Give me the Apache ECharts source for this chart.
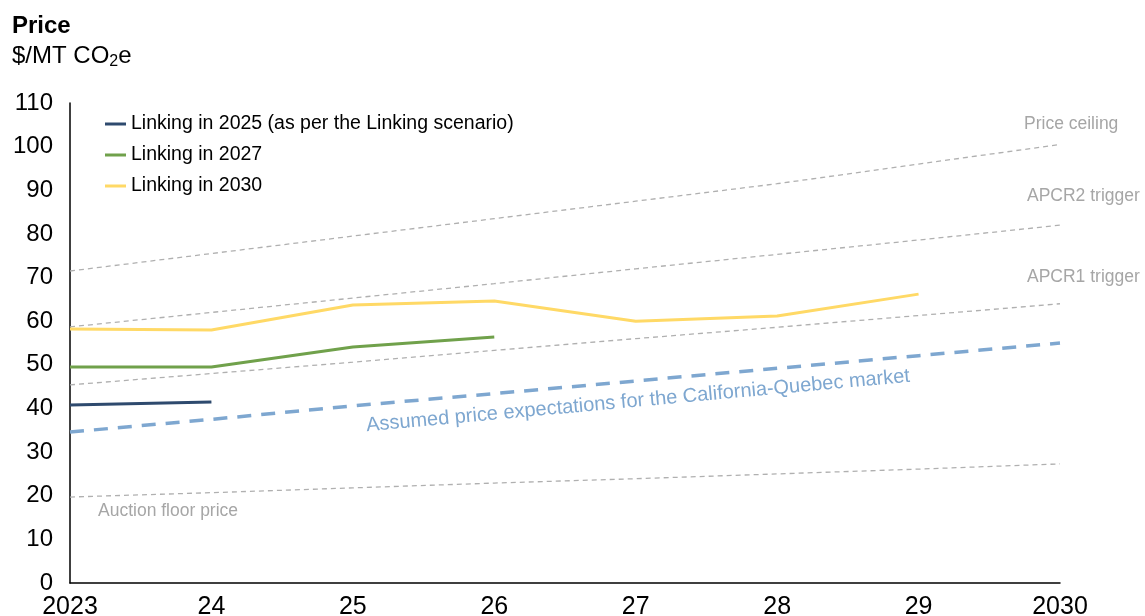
<!DOCTYPE html>
<html><head><meta charset="utf-8">
<script src="https://cdn.jsdelivr.net/npm/echarts@6/dist/echarts.min.js"></script>
<style>html,body{margin:0;padding:0;background:#fff}#c{width:1145px;height:616px}</style>
</head><body><div id="c"></div>
<script>
const years = ['2023','24','25','26','27','28','29','2030'];
const linking2025 = [40.8, 41.5, null, null, null, null, null, null];
const linking2027 = [49.5, 49.5, 54.1, 56.4, null, null, null, null];
const linking2030 = [58.2, 58.0, 63.7, 64.6, 60.0, 61.2, 66.2, null];
const assumedPrice = [34.6, 37.5, 40.6, 43.4, 46.3, 49.2, 52.1, 55.0];
const priceCeiling = [71.5, 75.5, 79.5, 83.5, 87.5, 91.5, 96.0, 100.5];
const apcr2 = [58.7, 62.0, 65.3, 68.6, 72.0, 75.3, 78.6, 82.0];
const apcr1 = [45.4, 48.0, 50.6, 53.3, 56.0, 58.6, 61.3, 64.0];
const auctionFloor = [19.7, 20.7, 21.8, 22.9, 23.9, 25.0, 26.1, 27.3];
const yTicks = {min: 0, max: 110, interval: 10};

const FONT = 'Liberation Sans, Arial, sans-serif';
const grey = '#a6a6a6';
function refLine(name, data){
  return {name, type:'line', data, symbol:'none', silent:true,
    lineStyle:{color:'#b0b0b0', width:1.3, type:[5,4]}, z:1};
}
const chart = echarts.init(document.getElementById('c'));
chart.setOption({
  animation:false,
  textStyle:{fontFamily:FONT},
  grid:{left:70, right:85, top:103, bottom:33, outerBoundsMode:'none', containLabel:false},
  xAxis:{type:'category', data:years, boundaryGap:false,
    axisLine:{lineStyle:{color:'#000', width:1.5}}, axisTick:{show:false},
    axisLabel:{color:'#000', fontSize:25, margin:12, fontFamily:FONT}},
  yAxis:{type:'value', min:yTicks.min, max:yTicks.max, interval:yTicks.interval,
    axisLine:{show:true, lineStyle:{color:'#000', width:1.5}}, axisTick:{show:false},
    splitLine:{show:false},
    axisLabel:{color:'#000', fontSize:24, margin:17, fontFamily:FONT}},
  legend:{left:100, top:109, orient:'vertical', itemGap:11, itemWidth:21, itemHeight:3,
    icon:'rect', textStyle:{fontSize:19.5, color:'#000', fontFamily:FONT},
    data:['Linking in 2025 (as per the Linking scenario)','Linking in 2027','Linking in 2030']},
  series:[
    refLine('Price ceiling', priceCeiling),
    refLine('APCR2 trigger', apcr2),
    refLine('APCR1 trigger', apcr1),
    refLine('Auction floor price', auctionFloor),
    {name:'Assumed price', type:'line', data:assumedPrice, symbol:'none',
      lineStyle:{color:'#7ea7d0', width:3.5, type:[14,10]}, z:2},
    {name:'Linking in 2025 (as per the Linking scenario)', type:'line', data:linking2025, symbol:'none',
      itemStyle:{color:'#2e4a6e'}, lineStyle:{color:'#2e4a6e', width:3}, z:3},
    {name:'Linking in 2027', type:'line', data:linking2027, symbol:'none',
      itemStyle:{color:'#70a14b'}, lineStyle:{color:'#70a14b', width:3}, z:3},
    {name:'Linking in 2030', type:'line', data:linking2030, symbol:'none',
      itemStyle:{color:'#ffd966'}, lineStyle:{color:'#ffd966', width:3}, z:3}
  ],
  graphic:[
    {type:'text', left:12, top:14, style:{text:'Price', font:'bold 24px '+FONT, fill:'#000'}},
    {type:'text', left:12, top:44, style:{
      text:'$/MT CO{sub|2}e', font:'24px '+FONT, fill:'#000',
      rich:{sub:{fontSize:16, verticalAlign:'bottom', padding:[12,0,0,0], fontFamily:FONT}}}},
    {type:'text', left:1024, top:115, style:{text:'Price ceiling', font:'17.5px '+FONT, fill:grey}},
    {type:'text', left:1027, top:187, style:{text:'APCR2 trigger', font:'17.5px '+FONT, fill:grey}},
    {type:'text', left:1027, top:268, style:{text:'APCR1 trigger', font:'17.5px '+FONT, fill:grey}},
    {type:'text', left:98, top:502, style:{text:'Auction floor price', font:'17.5px '+FONT, fill:grey}},
    {type:'text', x:638, y:401, rotation:5.2*Math.PI/180,
      style:{text:'Assumed price expectations for the California-Quebec market', font:'20px '+FONT,
        fill:'#7ea7d0', align:'center', verticalAlign:'middle'}}
  ]
});
</script></body></html>
